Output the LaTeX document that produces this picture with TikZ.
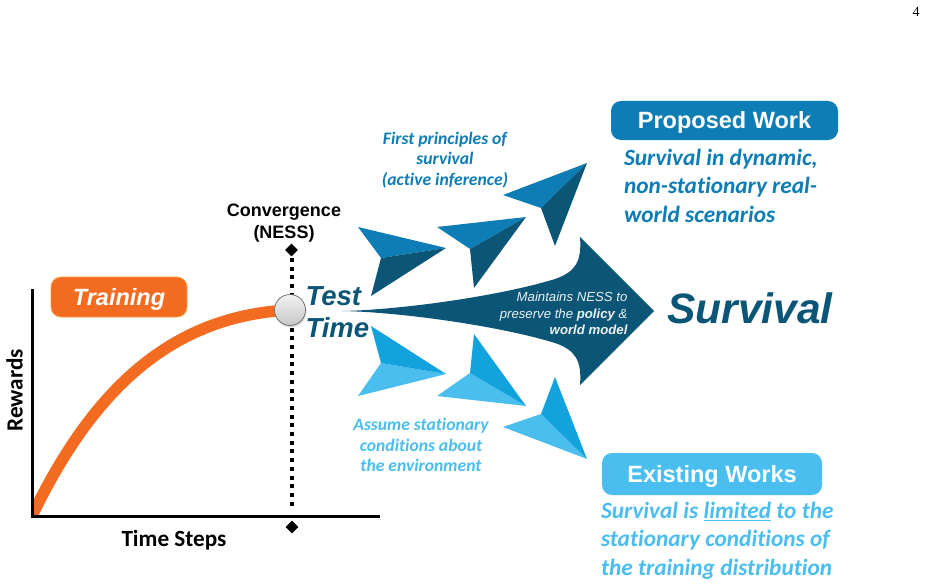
\documentclass[tikz,border=0pt]{standalone}
\usepackage{fontspec}
\setmainfont{Liberation Sans}
\newfontfamily\crl[Ligatures=NoCommon]{Carlito}
\newfontfamily\tms{Liberation Serif}
\usetikzlibrary{shapes.geometric,shadows}
\definecolor{cdark}{HTML}{0B5577}
\definecolor{cmid}{HTML}{0E7DB5}
\definecolor{clight}{HTML}{4BBEF0}
\definecolor{cmidl}{HTML}{13A3DC}
\definecolor{corange}{HTML}{F26B21}
\tikzset{
 px/.style={x=1pt,y=-1pt},
 blab/.style={font=\fontsize{18}{21}\selectfont\bfseries, text=black, align=center},
 callab/.style={font=\fontsize{23.2}{26}\selectfont\crl\bfseries, text=black},
 tagbox/.style={rounded corners=10pt, text=white, font=\fontsize{23.5}{26}\selectfont\bfseries, align=center, inner sep=0pt},
 subtext/.style={font=\fontsize{17.6}{20.5}\selectfont\crl\bfseries\itshape, align=center},
 bigtext/.style={font=\fontsize{23.3}{28.4}\selectfont\crl\bfseries\itshape, align=left},
 mark diamond/.style={diamond, fill=black, minimum width=13pt, minimum height=13pt, inner sep=0pt},
}
\newcommand{\dart}[6]{%
 \fill[#1] #3 -- #4 -- #5 -- cycle;
 \fill[#2] #6 -- #4 -- #5 -- cycle;}
\newcommand{\lowr}[2]{\raisebox{-#1}[0pt][0pt]{#2}}
\begin{document}
\begin{tikzpicture}[px]
\useasboundingbox (0,0) rectangle (927,586);
\fill[white] (0,0) rectangle (927,586);
\node[font=\fontsize{14}{16}\selectfont\tms] (pg) at (916,12) {4};

% curve, clipped at the axes
\coordinate (cstart) at (30,520); \coordinate (cend) at (290,310);
\begin{scope}
\clip (33,280) rectangle (300,516);
\draw[corange, line width=11.5pt] (cstart) .. controls (88,398) and (165,316) .. (cend);
\end{scope}
% axes
\coordinate (ytop) at (32.5,289); \coordinate (org) at (32.5,516.5); \coordinate (xend) at (380,516.5);
\draw[line width=3.6pt, black] (ytop) -- (org) -- (xend);
% dotted line
\coordinate (dtop) at (291.5,258); \coordinate (dbot) at (291.5,510);
\draw[black, line width=4pt, dash pattern=on 4pt off 4.7pt] (dtop) -- (dbot);
\node[mark diamond] (d1) at (291.5,250) {};
\node[mark diamond] (d2) at (292,527) {};
% ball
\node[circle, minimum size=31pt, inner sep=0pt, draw=black!60, line width=.7pt, top color=white!95!black, bottom color=black!22, drop shadow={opacity=.25,shadow xshift=1pt,shadow yshift=-2pt}] (ball) at (290,310) {};

\node[blab] (conv) at (284,223.5) {Convergence\\[1pt](NESS)};
\node[callab, rotate=90] (rew) at (14.5,390.5) {Rewards};
\node[callab] (ts) at (174,540) {Time Steps};
\node[tagbox, fill=corange, draw=orange!75!white, line width=.7pt, minimum width=136pt, minimum height=40pt, font=\fontsize{23.5}{26}\selectfont\bfseries\itshape] (train) at (119,297) {\lowr{8pt}{Training}};

\node[font=\fontsize{27.5}{32}\selectfont\bfseries\itshape, text=cdark, align=left, anchor=west] (tt) at (302,312.5) {Test\\Time};

% darts
\dart{cmid}{cdark}{(358,227)}{(446,248)}{(381,258)}{(371,296)}
\dart{cmid}{cdark}{(437,227)}{(526,217)}{(470,249)}{(474,288)}
\dart{cmid}{cdark}{(503,195)}{(587,163)}{(541,208)}{(555,246)}
\dart{clight}{cmidl}{(358,396)}{(446,374)}{(381,363)}{(371,326)}
\dart{clight}{cmidl}{(437,396)}{(526,406)}{(470,373)}{(474,334)}
\dart{clight}{cmidl}{(503,427)}{(587,459)}{(541,414)}{(555,377)}

% big arrow
\fill[cdark] (342,311) .. controls (400,310) and (500,296) .. (555,279)
 .. controls (575,272) and (582,262) .. (580,237) -- (654,311) -- (580,385)
 .. controls (582,360) and (575,350) .. (555,343) .. controls (500,326) and (400,312) .. (342,311) -- cycle;
\node[font=\fontsize{13.2}{16.3}\selectfont\itshape, text=white!92!cdark, align=right, anchor=east] (mn) at (631,313.5) {Maintains NESS to\\preserve the \textbf{policy} \&\\\textbf{world model}};

\node[font=\fontsize{42.5}{46}\selectfont\bfseries\itshape, text=cdark] (surv) at (750,308) {Survival};

\node[tagbox, fill=cmid, minimum width=227pt, minimum height=39pt] (pw) at (724.5,120.5) {\lowr{8.5pt}{Proposed Work}};
\node[tagbox, fill=clight, minimum width=220pt, minimum height=42pt] (ew) at (712,474) {\lowr{8.5pt}{Existing Works}};

\node[subtext, text=cmid] (fp) at (445,160) {First principles of\\survival\\(active inference)};
\node[subtext, text=clight] (as) at (421,445) {Assume stationary\\conditions about\\the environment};
\node[bigtext, text=cmid, anchor=north west] (sd) at (620.5,145.5) {Survival in dynamic,\\non-stationary real-\\world scenarios};
\node[bigtext, text=clight, anchor=north west] (sl) at (597.5,498.5) {Survival is \underline{limited} to the\\stationary conditions of\\the training distribution};
\end{tikzpicture}
\end{document}
